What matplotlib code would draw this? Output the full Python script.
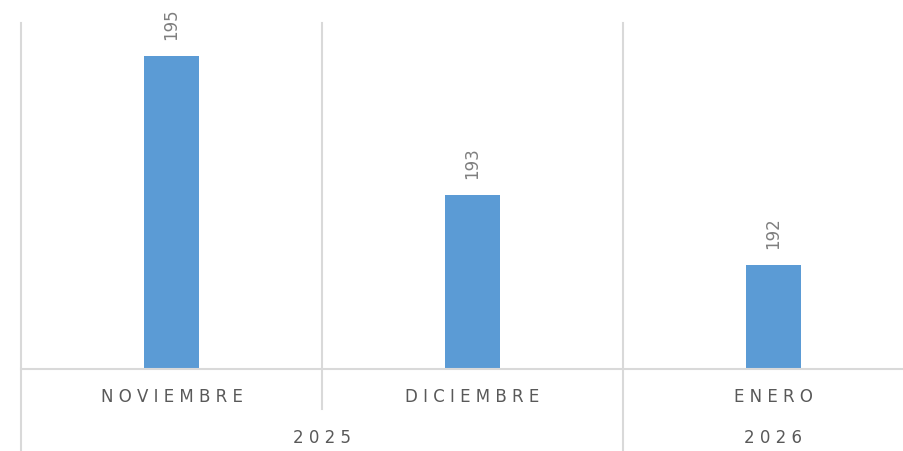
import matplotlib
matplotlib.use('Agg')
from matplotlib import pyplot as plt
import matplotlib.transforms as mtransforms

# data
months = ['NOVIEMBRE', 'DICIEMBRE', 'ENERO']
years = ['2025', '2026']
year_span = [(0, 1), (2, 2)]   # first / last month index of each year
values = [195, 193, 192]

bar_color = '#5B9BD5'
grid_color = '#d9d9d9'
txt_color = '#595959'

plt.rcParams['font.family'] = ['DejaVu Sans']

fig = plt.figure(figsize=(9.04, 4.52), dpi=100)
# axes runs a bit past the right edge like in the original
ax = fig.add_axes([21/904, 1-370/452, 903/904, 348/452])

x = list(range(len(months)))
ax.bar(x, values, width=0.183, color=bar_color, zorder=2)
ax.set_xlim(-0.5, len(months)-0.5)
ax.set_ylim(190.5, 195.5)

for s in ['top', 'right', 'left']:
    ax.spines[s].set_visible(False)
ax.spines['bottom'].set_color(grid_color)
ax.spines['bottom'].set_linewidth(1.5)
ax.set_xticks([])
ax.set_yticks([])

# data labels
for xi, v in zip(x, values):
    ax.annotate(str(v), (xi, v), xytext=(0, 12), textcoords='offset points',
                rotation=90, ha='center', va='bottom', fontsize=12, color='#7f7f7f')

trans = mtransforms.blended_transform_factory(ax.transData, ax.transAxes)

# separators: month boundaries go a bit below axis, year boundaries go to the bottom
year_edges = [-0.5] + [e + 0.5 for _, e in year_span]
for b in [i + 0.5 for i in range(len(months)-1)] + [-0.5]:
    y0 = -0.236 if b in year_edges else -0.115
    ax.plot([b, b], [y0, 0.995], transform=trans, color=grid_color, lw=1.5,
            clip_on=False, zorder=1)

def spaced(s):
    return ' '.join(s)

for xi, m in zip(x, months):
    ax.text(xi, -0.078, spaced(m), transform=trans, ha='center', va='center',
            fontsize=12, color=txt_color)

for yr, (a, b) in zip(years, year_span):
    ax.text((a + b) / 2, -0.195, spaced(yr), transform=trans, ha='center', va='center',
            fontsize=12, color=txt_color)

plt.savefig('out.png', dpi=100, facecolor='white')
